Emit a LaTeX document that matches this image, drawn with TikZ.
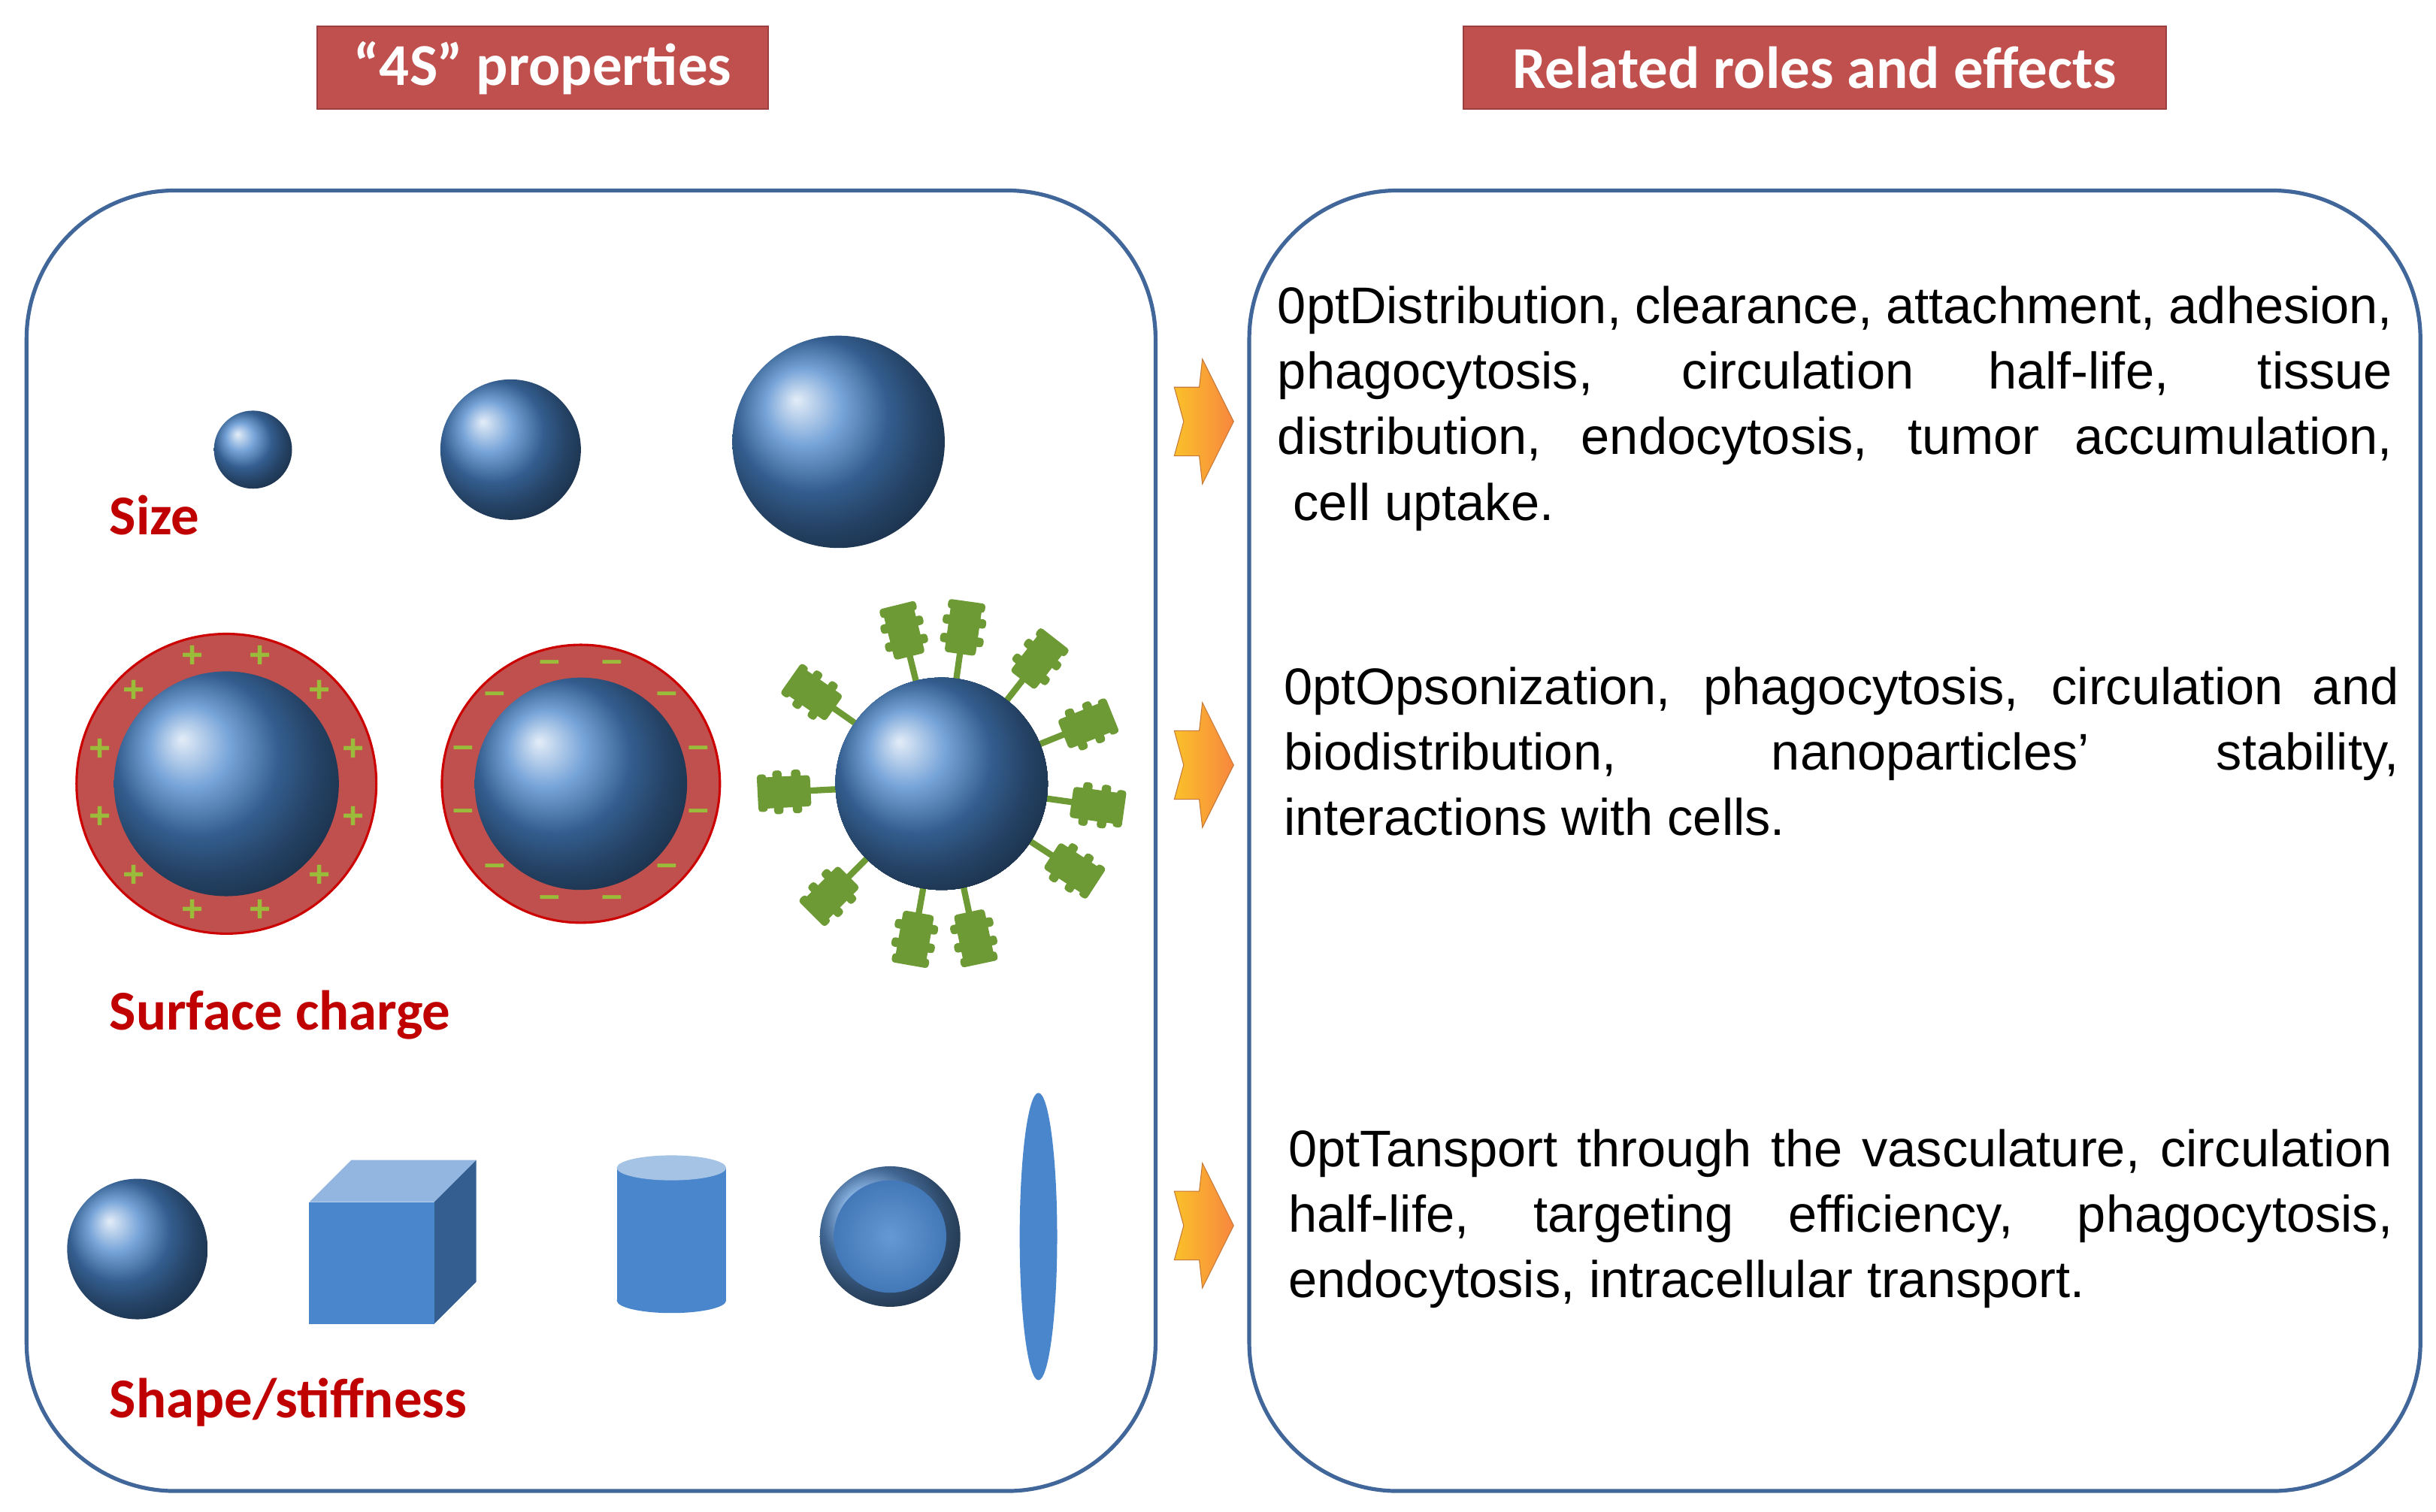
\documentclass[tikz,border=0pt]{standalone}
\usepackage{fontspec}
\setmainfont{Liberation Sans}
\newfontfamily\calfnt{Carlito}
\usetikzlibrary{shapes.geometric,calc}
\definecolor{hdr}{HTML}{C0504D}
\definecolor{frm}{HTML}{41669A}
\definecolor{lbl}{HTML}{C00000}
\definecolor{sph}{HTML}{4A86CC}
\definecolor{lig}{HTML}{6E9A35}
\definecolor{sgn}{HTML}{9BBB3A}
\definecolor{orng}{HTML}{F79646}
\tikzset{
 hdr/.style={fill=hdr,draw=hdr!80!black,line width=1pt,text=white,font=\calfnt\bfseries\fontsize{38}{42}\selectfont,minimum height=53pt,inner sep=0pt},
 panel/.style={draw=frm,line width=2.5pt,rounded corners=95pt},
 lbl/.style={text=lbl,font=\calfnt\bfseries\fontsize{36}{40}\selectfont,anchor=west,inner sep=0pt},
 txt/.style={anchor=north west,text width=714pt,align=justify,inner sep=0pt,font=\fontsize{33}{42}\selectfont\hyphenpenalty=10000\exhyphenpenalty=10000},
 ball/.style={ball color=sph,draw=none},
 ring/.style={fill=hdr,draw=red!80!black,line width=1.5pt},
 sgn/.style={text=sgn,font=\bfseries\fontsize{24}{24}\selectfont,inner sep=0pt},
 arr/.style={left color=orng!60!yellow,right color=orng!90!red,draw=orng!80!black,line width=0.5pt}
}
\newcommand{\ligand}[3]{% center, angle, radius
 \begin{scope}[shift={#1},rotate=#2]
  \draw[lig,line width=4pt] (#3-2,0) -- (#3+22,0);
  \fill[lig,rounded corners=2pt] (#3+18,-10) rectangle (#3+50,10);
  \fill[lig,rounded corners=2pt] (#3+24,-14) rectangle (#3+30,14);
  \fill[lig,rounded corners=2pt] (#3+36,-14) rectangle (#3+42,14);
  \fill[lig,rounded corners=2pt] (#3+46,-12) rectangle (#3+52,12);
 \end{scope}}
\begin{document}
\begin{tikzpicture}[x=1pt,y=-1pt]
\useasboundingbox (0,0) rectangle (1560,968);
% headers
\node[hdr,minimum width=289pt] (h1) at (347.5,43.5) {“4S” properties};
\node[hdr,minimum width=450pt] (h2) at (1162,43.5) {Related roles and effects};
% panels
\draw[panel] (17,122) rectangle (740,955);
\draw[panel] (800,122) rectangle (1550,955);
% size
\shade[ball] (162,288) circle (25);
\shade[ball] (327,288) circle (45);
\shade[ball] (537,283) circle (68);
\node[lbl] (s1) at (70,330) {Size};
% surface charge
\fill[ring] (145,502) circle (96);
\shade[ball] (145,502) circle (72);
\foreach \a in {0,30,...,330} \node[sgn] at ($(145,502)+(\a+15:84)$) {+};
\fill[ring] (372,502) circle (89);
\shade[ball] (372,502) circle (68);
\foreach \a in {0,30,...,330} \node[sgn] at ($(372,502)+(\a+15:78)$) {--};
\foreach \a in {100,78,135,33,8,-22,-52,-82,-104,-145,177} \ligand{(603,502)}{-\a}{66}
\shade[ball] (603,502) circle (68);
\node[lbl] (s2) at (70,650) {Surface charge};
% shapes
\shade[ball] (88,800) circle (45);
\fill[sph!60!white] (198,770) -- (225,743) -- (305,743) -- (278,770) -- cycle;
\fill[sph!70!black] (278,770) -- (305,743) -- (305,821) -- (278,848) -- cycle;
\fill[sph] (198,770) rectangle (278,848);
\fill[sph] (395,748) rectangle (465,833);
\fill[sph] (430,833) ellipse (35 and 8);
\fill[sph!50!white] (430,748) ellipse (35 and 8);
\shade[ball color=sph!90!white] (570,792) circle (45);
\shade[inner color=sph!85!white,outer color=sph!90!black] (570,792) circle (36);
\fill[sph] (665,792) ellipse (12 and 92);
\node[lbl] (s3) at (70,898) {Shape/stiffness};
% arrows
\foreach \y in {270,490,785}
 \shade[arr] (752,\y-22) -- (768,\y-22) -- (770,\y-40) -- (790,\y) -- (770,\y+40) -- (768,\y+22) -- (752,\y+22) -- (758,\y) -- cycle;
% texts
\node[txt] (t1) at (818,183) {Distribution, clearance, attachment, adhesion,\linebreak phagocytosis, circulation half-life, tissue\linebreak distribution, endocytosis, tumor accumulation,\linebreak \hspace*{10pt}cell uptake.};
\node[txt] (t2) at (822,427) {Opsonization, phagocytosis, circulation and\linebreak biodistribution, nanoparticles’ stability,\linebreak interactions with cells.};
\node[txt,text width=707pt] (t3) at (825,723) {Tansport through the vasculature, circulation\linebreak half-life, targeting efficiency, phagocytosis,\linebreak endocytosis, intracellular transport.};
\end{tikzpicture}
\end{document}
